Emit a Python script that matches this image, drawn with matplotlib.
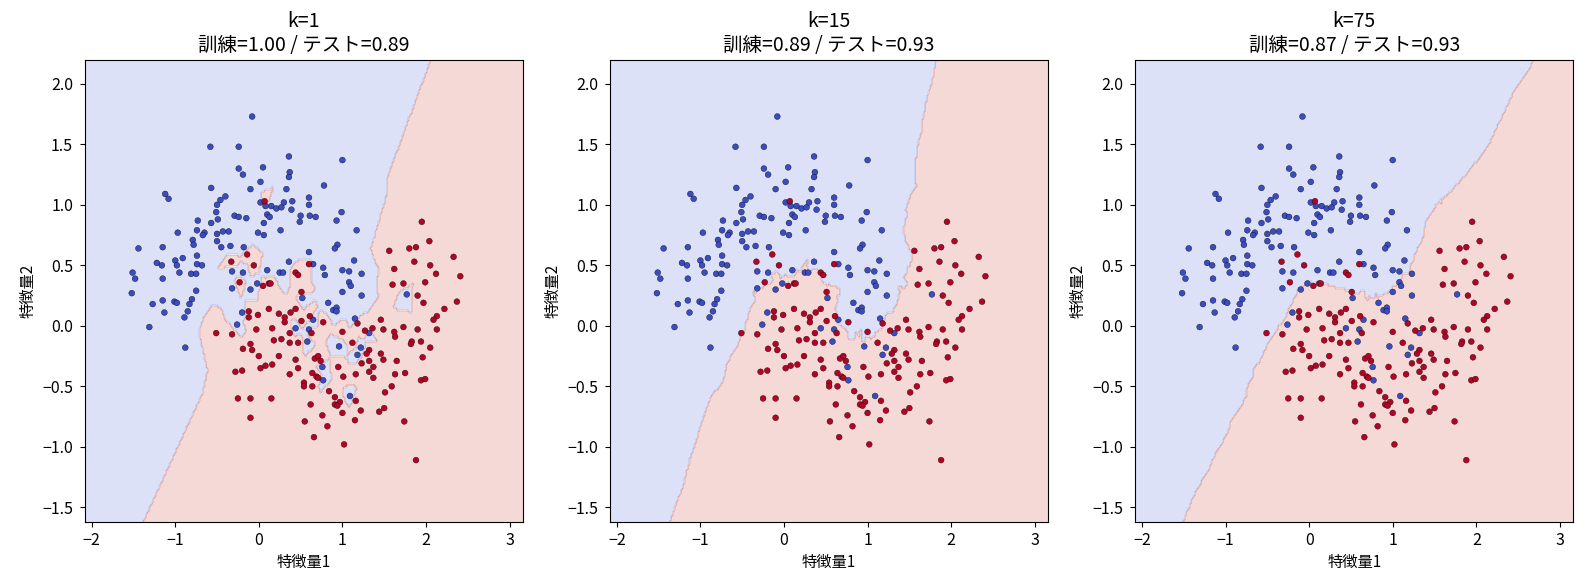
import numpy as np
import matplotlib.pyplot as plt

plt.rcParams['font.family'] = ['Noto Sans CJK JP', 'DejaVu Sans']
plt.rcParams['axes.unicode_minus'] = True
plt.rcParams['xtick.labelsize'] = 11.5
plt.rcParams['ytick.labelsize'] = 11.5
plt.rcParams['ytick.major.pad'] = 5

# class 0 (blue) training points
blue_x = [-0.58, -0.24, -0.24, -0.19, -1.12, -1.08, -0.57, -0.40, -0.46, -0.50,
          -0.51, -0.29, -0.24, -0.49, -0.57, -0.73, -0.74, -0.65, -0.67, -0.50,
          -0.43, -0.36, -0.97, -0.79, -0.78, -0.50, -0.45, -0.34, -0.18, -1.44,
          -1.15, -0.74, -0.91, -1.00, -1.22, -1.16, -0.98, -0.74, -0.68, -0.32,
          -0.19, -1.51, -0.95, -0.81, -0.75, -1.48, -1.15, -1.52, -0.75, -0.80,
          -0.83, -0.32, -1.27, -1.15, -1.01, -0.98, -1.13, -0.85, -0.89, -1.31,
          -0.88, -0.26, -0.20,
          -0.08, 0.36, 1.00, 0.05, 0.37, 0.36, 0.02, 0.78, -0.10, 0.33,
          0.60, 0.60, 0.02, 0.08, 0.15, 0.21, 0.27, 0.30, 0.40, 0.39,
          0.10, 0.13, 0.99, 0.50, 0.61, 0.68, 0.49, 0.93, -0.15, 0.06,
          1.17, 0.26, -0.01, 0.06, 0.94, 0.91, 0.60, 0.36, 1.14, 0.65,
          0.77, 1.00, 1.08, 1.23, 0.10, 0.25, 0.29, 0.79,
          -0.10, -0.02, 0.52, 1.08, 1.10, 1.00, 1.23, 0.83, 0.89, 0.93,
          0.93, 1.15, 0.65, 0.44, 0.60, 0.58, 0.96, 1.22, 1.18, 0.76,
          0.77, 1.09, 1.77, 1.32]
blue_y = [1.48, 1.48, 1.30, 1.25, 1.09, 1.05, 1.14, 1.07, 1.04, 1.00,
          0.94, 0.91, 0.90, 0.88, 0.85, 0.87, 0.79, 0.77, 0.75, 0.76,
          0.78, 0.78, 0.77, 0.71, 0.67, 0.70, 0.65, 0.66, 0.65, 0.64,
          0.65, 0.58, 0.56, 0.54, 0.52, 0.50, 0.50, 0.51, 0.50, 0.45,
          0.44, 0.44, 0.44, 0.43, 0.43, 0.39, 0.39, 0.27, 0.29, 0.22,
          0.18, 0.31, 0.18, 0.21, 0.20, 0.19, 0.11, 0.12, 0.07, -0.01,
          -0.18, 0.01, 0.11,
          1.73, 1.40, 1.37, 1.31, 1.27, 1.23, 1.19, 1.16, 1.13, 1.13,
          1.06, 1.00, 1.02, 0.99, 0.99, 0.97, 0.98, 1.02, 1.03, 0.96,
          0.92, 0.90, 0.94, 0.91, 0.91, 0.90, 0.86, 0.87, 0.89, 0.85,
          0.79, 0.79, 0.77, 0.75, 0.67, 0.64, 0.61, 0.53, 0.54, 0.51,
          0.48, 0.46, 0.45, 0.43, 0.46, 0.44, 0.44, 0.42,
          0.30, 0.35, 0.23, 0.36, 0.33, 0.28, 0.25, 0.19, 0.13, 0.15,
          0.12, 0.06, 0.05, -0.02, -0.03, -0.13, -0.17, -0.18, -0.24, -0.34,
          -0.45, -0.58, 0.26, -0.06]

# class 1 (red) training points
red_x = [-0.33, 0.07, -0.14, 0.60, -0.06, 0.44, 0.47,
         -0.23, -0.51, -0.32, -0.19, -0.28, -0.20, -0.25,
         0.05, 0.12, 0.14, 0.51, 1.18, -0.12, -0.12, -0.01, 0.12, 0.24,
         0.31, 0.31, 0.38, 0.44, 0.51, 0.61, 0.77, 0.63, 0.37, 0.37,
         0.47, -0.03, 0.16, 0.27, 0.18, -0.10, -0.08, 1.00, 1.12, 1.23,
         0.00, 0.24, 0.67, 0.71, 0.74, 0.44, 0.95, 0.02, 0.08, 0.16,
         0.47, 0.64, 0.69, 0.71, 0.37, 1.01, 1.16, 0.54, 0.54, 0.64,
         0.84, 0.91, 0.97, 0.91, 0.94, 1.16, 1.22, -0.10, 0.15, 0.62,
         1.00, 0.76, 1.15, -0.10, 0.55, 0.82, 0.66, 1.02,
         1.95, 2.04, 1.56, 1.80, 1.88, 2.33, 1.86, 1.62, 2.05, 2.12, 2.41,
         1.60, 1.73, 1.99, 1.90, 1.97, 2.37, 2.22, 2.13, 2.09, 1.46,
         1.27, 1.36, 1.49, 1.73, 1.90, 2.13, 1.62, 1.63, 1.83, 1.82,
         1.94, 2.05, 1.32, 1.29, 1.46, 1.49, 1.32, 1.65, 1.96, 1.37,
         1.32, 1.37, 1.63, 1.75, 1.94, 1.99, 1.59, 1.51, 1.50, 1.44,
         1.74, 1.88]
red_y = [0.53, 1.03, 0.59, 0.51, 0.50, 0.44, 0.42,
         0.36, -0.06, -0.07, -0.19, -0.38, -0.37, -0.60,
         0.33, 0.35, 0.35, 0.28, 0.02, 0.12, 0.07, 0.09, 0.14, 0.10,
         0.07, 0.03, 0.11, 0.14, 0.04, 0.08, 0.03, -0.06, -0.06, -0.14,
         -0.14, -0.03, -0.02, -0.11, -0.12, -0.15, -0.20, -0.05, -0.14, -0.31,
         -0.25, -0.25, -0.27, -0.25, -0.29, -0.28, -0.34, -0.35, -0.33, -0.32,
         -0.35, -0.39, -0.42, -0.43, -0.40, -0.42, -0.40, -0.47, -0.50, -0.50,
         -0.54, -0.59, -0.63, -0.65, -0.66, -0.62, -0.70, -0.60, -0.60, -0.65,
         -0.72, -0.74, -0.78, -0.76, -0.79, -0.83, -0.92, -0.98,
         0.86, 0.70, 0.62, 0.64, 0.65, 0.57, 0.53, 0.47, 0.50, 0.43, 0.41,
         0.34, 0.35, 0.36, 0.25, 0.19, 0.20, 0.14, 0.08, 0.05, 0.05,
         -0.04, -0.02, -0.03, -0.01, -0.03, -0.03, -0.05, -0.09, -0.13, -0.15,
         -0.13, -0.18, -0.20, -0.23, -0.23, -0.28, -0.29, -0.29, -0.26, -0.34,
         -0.38, -0.43, -0.40, -0.39, -0.45, -0.44, -0.50, -0.55, -0.68, -0.71,
         -0.79, -1.11]

ks = [1, 15, 75]
train_acc = [1.00, 0.89, 0.87]
test_acc = [0.89, 0.93, 0.93]

X = np.column_stack([blue_x + red_x, blue_y + red_y])
y = np.array([0] * len(blue_x) + [1] * len(red_x))

h = 0.02
xx, yy = np.meshgrid(np.arange(-2.08, 3.17, h), np.arange(-1.62, 2.22, h))
grid = np.c_[xx.ravel(), yy.ravel()]


def knn_predict(pts, k):
    out = np.empty(len(pts))
    for i in range(0, len(pts), 4000):
        chunk = pts[i:i + 4000]
        d = ((chunk[:, None, :] - X[None, :, :]) ** 2).sum(-1)
        idx = np.argpartition(d, k - 1, axis=1)[:, :k]
        out[i:i + 4000] = (y[idx].mean(1) > 0.5)
    return out


fig, axes = plt.subplots(1, 3, figsize=(15.85, 5.85), dpi=100)
plt.subplots_adjust(left=0.0536, right=0.9926, top=0.898, bottom=0.108, wspace=0.199)

for ax, k, tr, te in zip(axes, ks, train_acc, test_acc):
    Z = knn_predict(grid, k).reshape(xx.shape)
    ax.contourf(xx, yy, Z, alpha=0.2, cmap='coolwarm')
    ax.scatter(X[:, 0], X[:, 1], c=y, cmap='coolwarm', edgecolors='k',
               s=18, linewidths=0.25)
    ax.set_xlim(xx.min(), xx.max())
    ax.set_ylim(yy.min(), yy.max())
    ax.set_title('k=%d\n訓練=%.2f / テスト=%.2f' % (k, tr, te), fontsize=14)
    ax.set_xlabel('特徴量1', fontsize=11)
    ax.set_ylabel('特徴量2', fontsize=11)

plt.savefig('out.png', dpi=100)
